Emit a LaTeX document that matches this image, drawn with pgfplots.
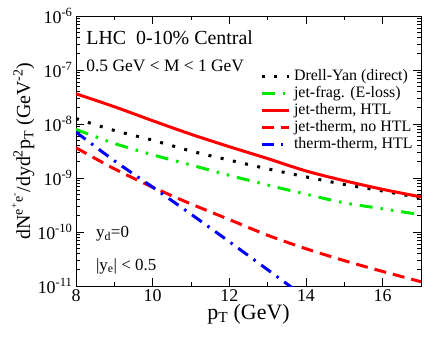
\documentclass[border=0pt]{standalone}
\usepackage{fontspec}
\setmainfont{Liberation Serif}
\usepackage{pgfplots}
\usepackage{pgfplotstable}
\pgfplotsset{compat=1.18}

\definecolor{xgreen}{RGB}{0,235,0}
\definecolor{xred}{RGB}{255,0,0}
\definecolor{xblue}{RGB}{0,0,255}

% columns: pT, Drell-Yan, jet-frag, jet-therm HTL, jet-therm no HTL, therm-therm HTL
\pgfplotstableread{
pt  dy       jf       jt       jtn      tt
8   1.26e-8  7.94e-9  3.63e-8  3.63e-9  7.08e-9
9   7.59e-9  4.37e-9  2.09e-8  1.48e-9  2.09e-9
10  5.01e-9  2.69e-9  1.15e-8  6.76e-10 6.76e-10
11  3.16e-9  1.74e-9  6.46e-9  3.31e-10 2.14e-10
12  2.14e-9  1.12e-9  3.80e-9  1.70e-10 6.61e-11
13  1.48e-9  7.41e-10 2.29e-9  8.71e-11 2.00e-11
14  1.05e-9  5.01e-10 1.35e-9  4.90e-11 6.03e-12
15  7.59e-10 3.47e-10 8.91e-10 2.95e-11 nan
16  5.75e-10 2.69e-10 6.17e-10 1.86e-11 nan
17  4.27e-10 2.09e-10 4.47e-10 1.20e-11 nan
}\data

\begin{document}
\begin{tikzpicture}
\begin{axis}[
  scale only axis, width=345bp, height=270bp,
  ymode=log, xmin=8, xmax=17, ymin=1e-11, ymax=1e-6,
  xtick={8,10,12,14,16}, minor x tick num=1,
  ytick={1e-11,1e-10,1e-9,1e-8,1e-7,1e-6},
  yticklabels={10\textsuperscript{-11},10\textsuperscript{-10},10\textsuperscript{-9},10\textsuperscript{-8},10\textsuperscript{-7},10\textsuperscript{-6}},
  /pgf/number format/assume math mode=true,
  tick label style={font=\fontsize{18}{20}\selectfont},
  tick align=inside, major tick length=8bp, minor tick length=4bp,
  every tick/.style={black, line width=0.8bp},
  axis line style={line width=0.9bp},
  xlabel={p\textsubscript{T} (GeV)},
  ylabel={dN\textsuperscript{e\textsuperscript{+}e\textsuperscript{-}}/dyd\textsuperscript{2}p\textsubscript{T} (GeV\textsuperscript{-2})},
  xlabel style={font=\fontsize{22}{24}\selectfont, yshift=4bp},
  ylabel style={font=\fontsize{20}{22}\selectfont, yshift=-4bp},
  legend style={at={(0.988,0.815)}, anchor=north east, draw=none, fill=none,
    font=\fontsize{16}{17}\selectfont,
    nodes={text height=11bp, text depth=4bp, inner sep=1bp},
    column sep=3bp},
  legend cell align=left,
  legend image code/.code={\draw[#1] (0bp,0bp) -- (27bp,0bp);},
  every axis plot/.append style={line width=3bp},
]
\addplot[black, dash pattern=on 3bp off 9.5bp, smooth] table[x=pt, y=dy] {\data};
\addlegendentry{Drell-Yan (direct)}
\addplot[xgreen, dash pattern=on 13bp off 8bp on 2.5bp off 8bp on 2.5bp off 8bp, smooth] table[x=pt, y=jf] {\data};
\addlegendentry{jet-frag. (E-loss)}
\addplot[xred, smooth] table[x=pt, y=jt] {\data};
\addlegendentry{jet-therm, HTL}
\addplot[xred, dash pattern=on 12bp off 7bp, smooth] table[x=pt, y=jtn] {\data};
\addlegendentry{jet-therm, no HTL}
\addplot[xblue, dash pattern=on 12bp off 7bp on 2.5bp off 7bp, smooth] table[x=pt, y=tt] {\data};
\addlegendentry{therm-therm, HTL}

\node[anchor=base west, font=\fontsize{20}{24}\selectfont] at (rel axis cs:0.02,0.893) {LHC\ \ 0-10\% Central};
\node[anchor=base west, font=\fontsize{17.5}{20}\selectfont] at (rel axis cs:0.02,0.794) {0.5 GeV < M < 1 GeV};
\node[anchor=base west, font=\fontsize{17}{20}\selectfont] at (rel axis cs:0.048,0.178) {y\textsubscript{d}=0};
\node[anchor=base west, font=\fontsize{17}{20}\selectfont] at (rel axis cs:0.048,0.059) {|y\textsubscript{e}| < 0.5};
\end{axis}
\path ([xshift=-76bp,yshift=-52bp]current axis.south west) ([xshift=16bp,yshift=16bp]current axis.north east);
\end{tikzpicture}
\end{document}
